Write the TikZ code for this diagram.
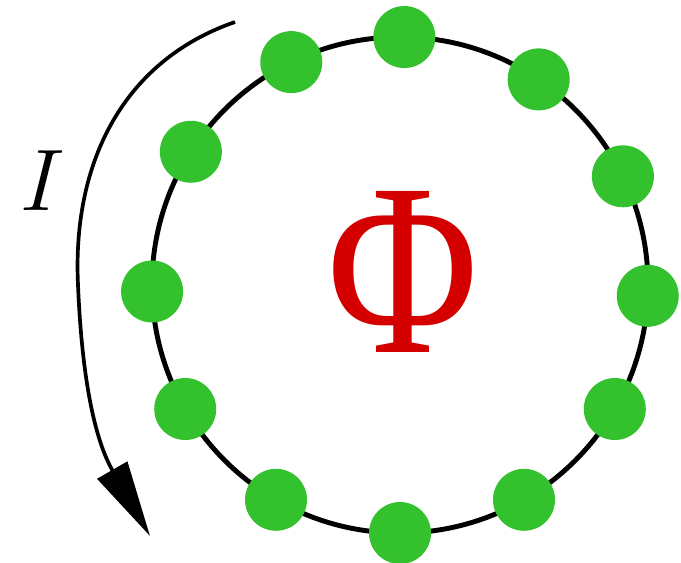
\documentclass[tikz,border=0pt]{standalone}
\usepackage{amsmath}
\usepackage{fontspec}
\usepackage{xcolor}
\usepackage{tikz}
\usetikzlibrary{arrows.meta, positioning, calc}
\newfontfamily\phifont{Liberation Serif}
\definecolor{dotgreen}{RGB}{52,193,46}
\definecolor{phired}{RGB}{212,0,0}
\tikzset{
  ring/.style={draw, line width=1.4pt},
  bead/.style={circle, fill=dotgreen, inner sep=0pt, minimum size=6.2mm},
  current/.style={-{Triangle[length=7.6mm, width=3.4mm]}, line width=1.05pt},
  fluxlabel/.style={text=phired, xscale=0.84, font=\phifont\fontsize{70}{74}\selectfont},
  curlabel/.style={font=\fontsize{23}{26}\selectfont}
}
\begin{document}
\begin{tikzpicture}[x=0.1mm, y=-0.1mm]
    \useasboundingbox (0,0) rectangle (681,562);
    \coordinate (c) at (400,285);
    \draw[ring] (c) circle[radius=248];
    \foreach \a [count=\i] in {89,56,26,-2.5,-30,-60,-90,-120,-150,181.5,147.5,116}
        \node[bead] (b\i) at ($(c)+(\a:248 and -248)$) {};
    \node[fluxlabel] (phi) at (403,272) {Φ};

    \coordinate (istart) at (235,22);
    \coordinate (imid) at (78,285);
    \coordinate (iend) at (150,536);
    \draw[current] (istart) .. controls (125,60) and (72,160) .. (imid)
        .. controls (82,380) and (95,440) .. (iend);
    \node[curlabel] (ilabel) at (43,181) {$I$};
\end{tikzpicture}
\end{document}
